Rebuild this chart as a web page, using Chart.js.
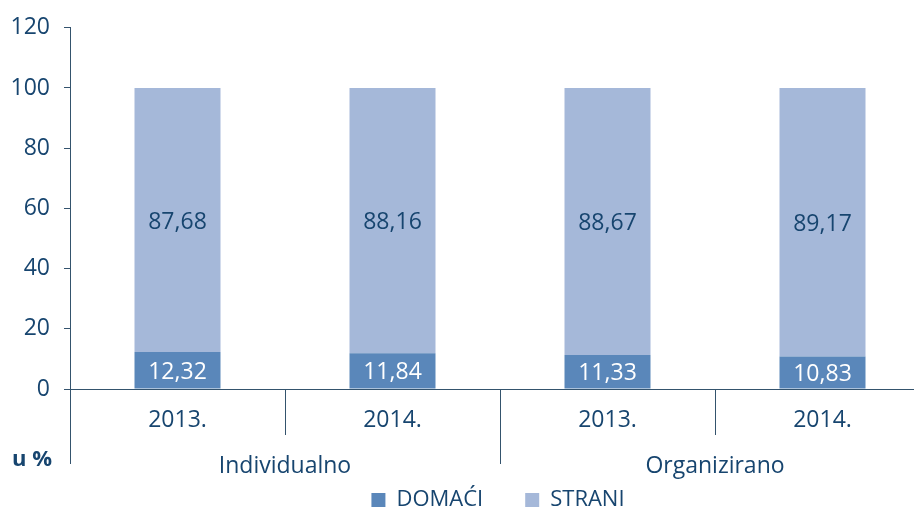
<!DOCTYPE html>
<html>
<head>
<meta charset="utf-8">
<script src="https://cdn.jsdelivr.net/npm/chart.js@4"></script>
<style>
  html, body { margin: 0; padding: 0; background: #fff; overflow: hidden; width: 914px; height: 510px; }
  #wrap { width: 930px; height: 510px; position: relative; }
</style>
</head>
<body>
<div id="wrap"><canvas id="chart"></canvas></div>
<script>
const years = ['2013.', '2014.', '2013.', '2014.'];
const groups = ['Individualno', 'Organizirano'];
const domaci = [12.32, 11.84, 11.33, 10.83];
const strani = [87.68, 88.16, 88.67, 89.17];
const yTicks = [0, 20, 40, 60, 80, 100, 120];

const navy = '#17456f';
const axisColor = '#34536d';
const darkBar = '#5a87ba';
const lightBar = '#a5b8d9';
const font = "'Open Sans', sans-serif";

const fmt = v => v.toFixed(2).replace('.', ',');

// labels inside bars, category separators, group names, "u %"
const extras = {
  id: 'extras',
  afterLayout(chart) {
    // legend sits a bit right of the canvas centre in the original
    chart.legend.left = 66;
  },
  afterDatasetsDraw(chart) {
    const ctx = chart.ctx;
    ctx.save();
    ctx.font = '23px ' + font;
    ctx.textAlign = 'center';
    ctx.textBaseline = 'middle';
    chart.data.datasets.forEach((ds, di) => {
      chart.getDatasetMeta(di).data.forEach((bar, i) => {
        const p = bar.getCenterPoint();
        ctx.fillStyle = di === 0 ? '#ffffff' : navy;
        ctx.fillText(fmt(ds.data[i]), p.x, p.y + 2);
      });
    });
    ctx.restore();
  },
  afterDraw(chart) {
    const ctx = chart.ctx;
    const x = chart.scales.x;
    const y = chart.scales.y;
    const base = y.getPixelForValue(0);
    const left = chart.chartArea.left;
    ctx.save();
    ctx.strokeStyle = axisColor;
    ctx.lineWidth = 1;
    const line = (x1, y1, x2, y2) => {
      ctx.beginPath();
      ctx.moveTo(x1, y1);
      ctx.lineTo(x2, y2);
      ctx.stroke();
    };
    line(left - 6, base + 0.5, chart.chartArea.right, base + 0.5);
    line(left + 0.5, base, left + 0.5, base + 75);
    for (let i = 0; i < years.length - 1; i++) {
      const bx = Math.round((x.getPixelForValue(i) + x.getPixelForValue(i + 1)) / 2) + 0.5;
      line(bx, base, bx, base + (i === 1 ? 75 : 46));
    }
    ctx.fillStyle = navy;
    ctx.font = '23px ' + font;
    ctx.textAlign = 'center';
    ctx.textBaseline = 'middle';
    const mid = (x.getPixelForValue(1) + x.getPixelForValue(2)) / 2;
    ctx.fillText(groups[0], (left + mid) / 2, base + 77);
    ctx.fillText(groups[1], (mid + chart.chartArea.right) / 2, base + 77);
    ctx.font = 'bold 22px ' + font;
    ctx.textAlign = 'left';
    ctx.fillText('u %', 12, base + 71);
    ctx.restore();
  }
};

new Chart(document.getElementById('chart'), {
  type: 'bar',
  data: {
    labels: years,
    datasets: [
      { label: 'DOMAĆI', data: domaci, backgroundColor: darkBar, barPercentage: 1, categoryPercentage: 0.4 },
      { label: 'STRANI', data: strani, backgroundColor: lightBar, barPercentage: 1, categoryPercentage: 0.4 }
    ]
  },
  options: {
    responsive: true,
    maintainAspectRatio: false,
    animation: false,
    layout: { padding: { top: 25, right: 0, bottom: -11, left: 0 } },
    plugins: {
      tooltip: { enabled: false },
      legend: {
        position: 'bottom',
        labels: {
          boxWidth: 14,
          boxHeight: 14,
          padding: 42,
          color: navy,
          font: { family: font, size: 22 }
        }
      }
    },
    scales: {
      x: {
        stacked: true,
        grid: { display: false, drawTicks: false },
        border: { display: false },
        ticks: { color: navy, padding: 18, font: { family: font, size: 23 } },
        afterFit(scale) { scale.height = 58; }
      },
      y: {
        stacked: true,
        min: 0,
        max: 120,
        afterBuildTicks(scale) { scale.ticks = yTicks.map(v => ({ value: v })); },
        grid: { drawOnChartArea: false, drawTicks: true, tickLength: 6, color: axisColor },
        border: { display: true, color: axisColor, width: 1 },
        ticks: { color: navy, padding: 14, font: { family: font, size: 23 } },
        afterFit(scale) { scale.width = 70; }
      }
    }
  },
  plugins: [extras]
});
</script>
</body>
</html>
